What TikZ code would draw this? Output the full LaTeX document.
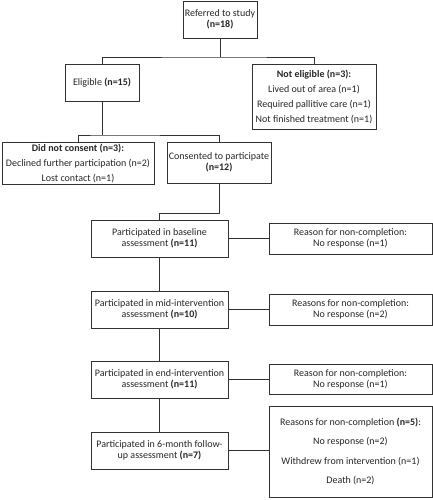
\documentclass[tikz,border=0pt]{standalone}
\usepackage{fontspec}
\setmainfont{Carlito}
\begin{document}
\begin{tikzpicture}[x=1pt,y=-1pt,
  box/.style={draw=black!80,line width=0.9pt,align=center,inner sep=1pt,
    font=\fontsize{10}{11}\selectfont,text=black!85},
  link/.style={draw=black!80,line width=0.9pt}]
\useasboundingbox (0,0) rectangle (433,500);
\node[box,minimum width=74pt,minimum height=37pt] (ref) at (220,19.5) {Referred to study\\\textbf{(n=18)}};
\node[box,minimum width=74pt,minimum height=37pt] (elig) at (102,82.5) {Eligible \textbf{(n=15)}};
\node[box,minimum width=124pt,minimum height=65pt] (nelig) at (314,96.5) {\textbf{Not eligible (n=3):}\\[4pt]Lived out of area (n=1)\\[4pt]Required pallitive care (n=1)\\[4pt]Not finished treatment (n=1)};
\node[box,minimum width=152pt,minimum height=42pt] (dnc) at (78,163) {\textbf{Did not consent (n=3):}\\[4pt]Declined further participation (n=2)\\[4pt]Lost contact (n=1)};
\node[box,minimum width=104pt,minimum height=41pt] (cons) at (219,162.5) {Consented to participate\\\textbf{(n=12)}};
\node[box,minimum width=137pt,minimum height=37pt] (base) at (159.5,238.5) {Participated in baseline\\assessment \textbf{(n=11)}};
\node[box,minimum width=163pt,minimum height=31pt] (r1) at (350.5,238.5) {Reason for non-completion:\\No response (n=1)};
\node[box,minimum width=137pt,minimum height=37pt] (mid) at (159.5,309.5) {Participated in mid-intervention\\assessment \textbf{(n=10)}};
\node[box,minimum width=163pt,minimum height=31pt] (r2) at (350.5,309.5) {Reasons for non-completion:\\No response (n=2)};
\node[box,minimum width=137pt,minimum height=37pt] (endb) at (159.5,379.5) {Participated in end-intervention\\assessment \textbf{(n=11)}};
\node[box,minimum width=163pt,minimum height=30pt] (r3) at (350.5,379) {Reason for non-completion:\\No response (n=1)};
\node[box,minimum width=137pt,minimum height=37pt] (six) at (159.5,450.5) {Participated in 6-month follow-\\up assessment \textbf{(n=7)}};
\node[box,minimum width=163pt,minimum height=91pt] (r4) at (350.5,451.5) {Reasons for non-completion \textbf{(n=5)}:\\[8.3pt]No response (n=2)\\[8.3pt]Withdrew from intervention (n=1)\\[8.3pt]Death (n=2)};
\coordinate (j1) at (220,57);
\coordinate (j2) at (102,135);
\coordinate (j3) at (0,213);
\draw[link] (ref.south) -- (j1);
\draw[link] (elig.north) |- (j1) -| (nelig.north);
\draw[link] (elig.south) -- (j2);
\draw[link] (dnc.north) |- (j2) -| (cons.north);
\draw[link] (cons.south) -- (cons.south |- j3) -| (base.north);
\draw[link] (base.south) -- (mid.north);
\draw[link] (mid.south) -- (endb.north);
\draw[link] (endb.south) -- (six.north);
\draw[link] (base.east) -- (r1.west |- base.east);
\draw[link] (mid.east) -- (r2.west |- mid.east);
\draw[link] (endb.east) -- (r3.west |- endb.east);
\draw[link] (six.east) -- (r4.west |- six.east);
\end{tikzpicture}
\end{document}
